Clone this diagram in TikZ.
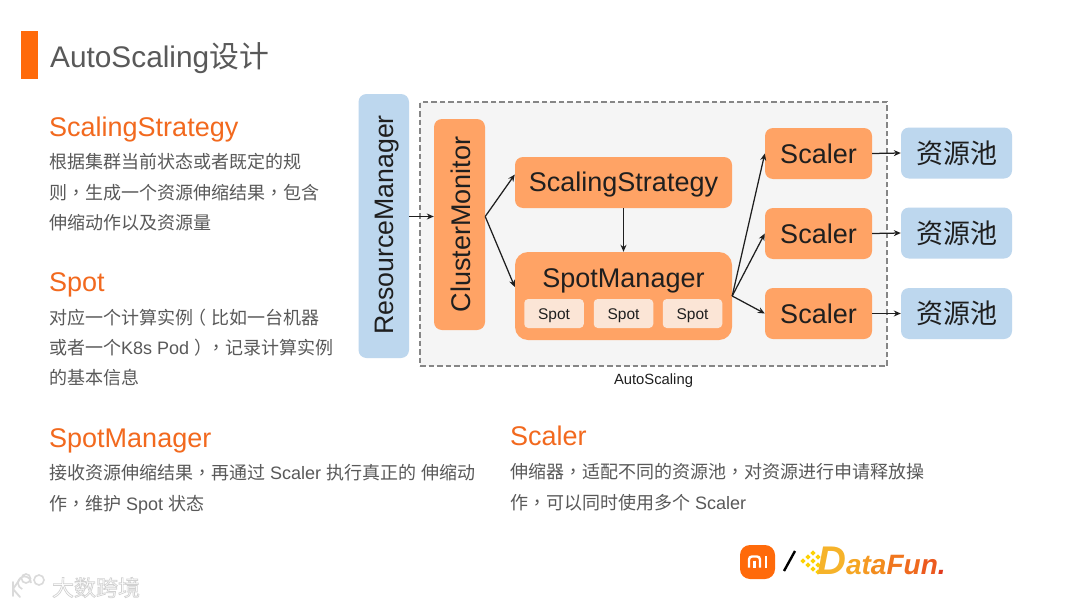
\documentclass[tikz,border=0pt]{standalone}
\usepackage{fontspec}
\setmainfont{Liberation Sans}
\newfontfamily\cn{Noto Sans CJK SC}
\newfontfamily\tcn{Noto Sans CJK TC}
\newcommand{\zh}[1]{{\cn #1}}
\newcommand{\cm}{{\tcn ，}}
\newcommand{\fs}[1]{\fontsize{#1}{#1}\selectfont}
\definecolor{barO}{HTML}{FF6A0A}
\definecolor{headO}{HTML}{F2691E}
\definecolor{boxO}{HTML}{FFA365}
\definecolor{boxB}{HTML}{BDD7EE}
\definecolor{spotC}{HTML}{FBE5D6}
\definecolor{txt}{HTML}{595959}
\definecolor{dark}{HTML}{1F1F1F}
\definecolor{wm}{HTML}{DADADA}
\tikzset{
  box/.style={rounded corners=8pt,inner sep=0pt,text=dark,font=\fs{27}},
  obox/.style={box,fill=boxO},
  bbox/.style={box,fill=boxB},
  spotbox/.style={rounded corners=4pt,fill=spotC,inner sep=0pt,text=dark,font=\fs{15.5},minimum width=59.5pt,minimum height=29pt,text height=11pt,text depth=0pt},
  scalerbox/.style={obox,minimum width=107pt,minimum height=51pt},
  poolbox/.style={bbox,minimum width=111pt,minimum height=51pt},
  link/.style={draw=dark,line width=1.25pt,-{Stealth[length=7pt,width=6pt]}},
  heading/.style={anchor=base west,inner sep=0pt,text=headO,font=\fs{27}},
  para/.style={anchor=north west,inner sep=0pt,text=txt,align=left,font=\fontsize{18}{30.4}\selectfont},
  dia/.style={fill=#1,rotate=45,minimum size=3.6pt,inner sep=0pt},
}
\usetikzlibrary{arrows.meta}
\begin{document}
\begin{tikzpicture}[x=1pt,y=-1pt]
\useasboundingbox[fill=white] (0,0) rectangle (1080,608);
% title
\fill[barO] (21,31) rectangle (38,79);
\node[anchor=base west,inner sep=0pt,text=txt,font=\fs{29.8}] (title) at (50,67) {AutoScaling\zh{设计}};
% left text
\node[heading] (h1) at (49,136) {ScalingStrategy};
\node[para] (p1) at (49,153.5) {\cn 根据集群当前状态或者既定的规\\\cn 则\cm 生成一个资源伸缩结果\cm 包含\\\cn 伸缩动作以及资源量};
\node[heading] (h2) at (49,291) {Spot};
\node[para] (p2) at (49,308.5) {\zh{对应一个计算实例}\kern-5pt\zh{（}\kern5pt\zh{比如一台机器}\\\zh{或者一个}K8s Pod\kern5pt\zh{）}\kern-5pt\cm\zh{记录计算实例}\\\cn 的基本信息};
\node[heading] (h3) at (49,447) {SpotManager};
\node[para] (p3) at (49,464.5) {\zh{接收资源伸缩结果}\cm\zh{再通过} Scaler \zh{执行真正的} \zh{伸缩动}\\\zh{作}\cm\zh{维护} Spot \zh{状态}};
\node[heading] (h4) at (510,445) {Scaler};
\node[para] (p4) at (510,463.5) {\zh{伸缩器}\cm\zh{适配不同的资源池}\cm\zh{对资源进行申请释放操}\\\zh{作}\cm\zh{可以同时使用多个} Scaler};
% diagram
\node[draw=gray!95,fill=black!4,line width=1.9pt,dash pattern=on 5.5pt off 3pt,minimum width=467pt,minimum height=264pt,inner sep=0pt] (as) at (653.5,234) {};
\node[inner sep=0pt,text=dark,font=\fs{14.8}] (aslabel) at (653.5,381) {AutoScaling};
\node[bbox,minimum width=50.5pt,minimum height=264pt] (rm) at (383.75,226) {};
\node[rotate=90,inner sep=0pt,text=dark,font=\fs{26.7}] (rmt) at (387,225) {ResourceManager};
\node[obox,minimum width=51pt,minimum height=211pt] (cmn) at (459.5,224.5) {};
\node[rotate=90,inner sep=0pt,text=dark,font=\fs{27}] (cmt) at (460.5,224.5) {ClusterMonitor};
\node[obox,minimum width=217pt,minimum height=51pt,text height=24pt,text depth=6pt] (ss) at (623.5,182.5) {ScalingStrategy};
\node[obox,rounded corners=13pt,minimum width=217pt,minimum height=88pt] (sm) at (623.5,296) {};
\node[inner sep=0pt,text=dark,font=\fs{27}] (smt) at (623.5,280.5) {SpotManager};
\node[spotbox] (s1) at (554,313.5) {Spot};
\node[spotbox] (s2) at (623.5,313.5) {Spot};
\node[spotbox] (s3) at (692.5,313.5) {Spot};
\node[scalerbox] (sc1) at (818.5,153.5) {Scaler};
\node[scalerbox] (sc2) at (818.5,233.5) {Scaler};
\node[scalerbox] (sc3) at (818.5,313.5) {Scaler};
\node[poolbox] (p_1) at (956.5,153) {\zh{资源池}};
\node[poolbox] (p_2) at (956.5,233) {\zh{资源池}};
\node[poolbox] (p_3) at (956.5,313.5) {\zh{资源池}};
% connectors
\draw[link] ([yshift=9.5pt]rm.east) -- ([yshift=8pt]cmn.west);
\draw[link] ([yshift=8pt]cmn.east) -- ([yshift=8pt]ss.west);
\draw[link] ([yshift=8pt]cmn.east) -- ([yshift=9pt]sm.west);
\draw[link] (ss.south) -- (sm.north);
\draw[link] (sm.east) -- (sc1.west);
\draw[link] (sm.east) -- (sc2.west);
\draw[link] (sm.east) -- (sc3.west);
\draw[link] (sc1.east) -- (p_1.west);
\draw[link] (sc2.east) -- (p_2.west);
\draw[link] (sc3.east) -- (p_3.west);
% Mi logo
\fill[barO,rounded corners=10pt] (740,545) rectangle (775,579);
\draw[white,line width=2.4pt,rounded corners=3pt] (749,567.5) -- (749,556.5) -- (760,556.5) -- (760,567.5);
\draw[white,line width=2.4pt] (754.5,560.5) -- (754.5,567.5) (766,556) -- (766,567.5);
\draw[black,line width=2.4pt] (795,551) -- (784,571);
% DataFun logo
\foreach \px/\py in {803/561,808/557,813/553,808/565,813/561,818/557,813/569,818/565,818/572}
  \node[dia=yellow!70!orange] at (\px,\py) {};
\node[anchor=base west,inner sep=0pt,font=\bfseries\itshape\fs{28}] (df) at (817,574) {\textcolor[HTML]{F6B32A}{\fs{40}D}\textcolor[HTML]{F5A623}{a}\textcolor[HTML]{F59A23}{t}\textcolor[HTML]{F28C1E}{a}\textcolor[HTML]{F0761E}{F}\textcolor[HTML]{EF6A1E}{u}\textcolor[HTML]{EC5A1E}{n}\textcolor[HTML]{E03A1E}{.}};
% watermark
\draw[wm,line width=1.8pt,line cap=round] (13,596) -- (13,582) (13,589) -- (20,579) (13,589) -- (20,597);
\draw[wm,line width=1.6pt] (31,583) arc (0:-250:6.5) (26,578.5) circle (4.5) (39,580) circle (5);
\node[inner sep=0pt,font=\cn\fs{22}] (wmk) at (96,587.5) {\special{pdf:code q 2 Tr 0.7 w 0.82 0.82 0.82 RG 1 1 1 rg}大数跨境\special{pdf:code 0 Tr Q}};
\end{tikzpicture}
\end{document}
